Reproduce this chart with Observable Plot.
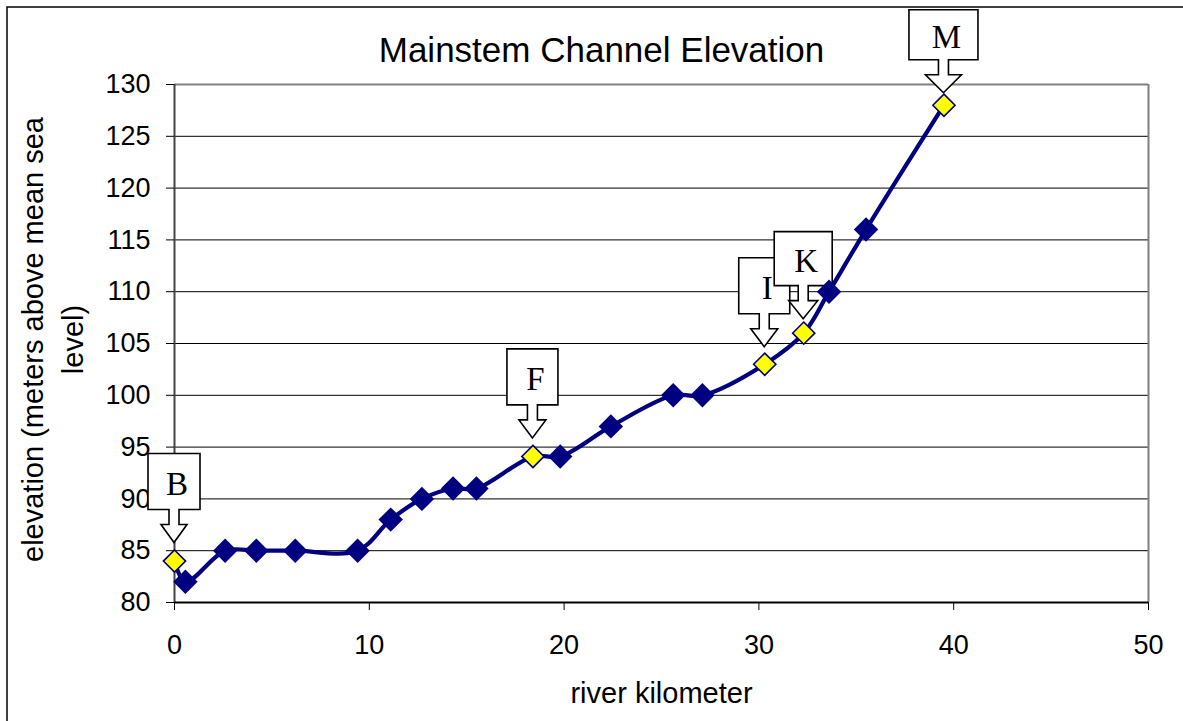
<!DOCTYPE html>
<html>
<head>
<meta charset="utf-8">
<script src="https://cdn.jsdelivr.net/npm/d3@7"></script>
<script src="https://cdn.jsdelivr.net/npm/@observablehq/plot@0.6"></script>
<style>
  html, body { margin: 0; padding: 0; background: #fff; overflow: hidden; }
  #chart { width: 1183px; height: 721px; }
</style>
</head>
<body>
<div id="chart"></div>
<script>
// ---- data ----
const km        = [0, 0.56, 2.6, 4.2, 6.2, 9.4, 11.1, 12.7, 14.3, 15.5, 18.4, 19.8, 22.4, 25.6, 27.1, 30.3, 32.3, 33.6, 35.5, 39.5];
const elevation = [84, 82, 85, 85, 85, 85, 88, 90, 91, 91, 94.1, 94.1, 97, 100, 100, 103, 106, 110, 116, 128];
const siteLabel = ["B", "", "", "", "", "", "", "", "", "", "F", "", "", "", "", "I", "K", "", "", "M"];
const xTicks = [0, 10, 20, 30, 40, 50];
const yTicks = [80, 85, 90, 95, 100, 105, 110, 115, 120, 125, 130];
const titleText = "Mainstem Channel Elevation";
const xLabel = "river kilometer";
const yLabel = "elevation (meters above mean sea\nlevel)";

// ---- table built from arrays ----
const points = km.map((k, i) => ({km: k, elev: elevation[i], label: siteLabel[i]}));
const plain = points.filter(d => !d.label);
const marked = points.filter(d => d.label);

// callout styling (pixel sizes per label)
const calloutStyle = {
  B: {w: 52, h: 56, head: 26, gap: 18},
  F: {w: 51, h: 56, head: 27, gap: 18},
  I: {w: 51, h: 56, head: 27, gap: 17},
  K: {w: 58, h: 54, head: 29, gap: 14},
  M: {w: 69, h: 50, head: 36, gap: 12}
};

const navy = "#000080";

function callouts(index, scales, values, dimensions) {
  const sx = typeof scales.x === "function" ? scales.x : scales.scales.x.apply;
  const sy = typeof scales.y === "function" ? scales.y : scales.scales.y.apply;
  const g = d3.create("svg:g");
  for (const d of marked) {
    const s = calloutStyle[d.label];
    const tx = sx(d.km), ty = sy(d.elev) - s.gap;
    const hh = 18, sl = 15, sw = 5, hw = s.head / 2, bw = s.w / 2, bh = s.h;
    const p = [
      [0, 0], [-hw, -hh], [-sw, -hh], [-sw, -(hh + sl)], [-bw, -(hh + sl)],
      [-bw, -(hh + sl + bh)], [bw, -(hh + sl + bh)], [bw, -(hh + sl)],
      [sw, -(hh + sl)], [sw, -hh], [hw, -hh]
    ];
    g.append("path")
      .attr("d", "M" + p.map(q => (tx + q[0]) + "," + (ty + q[1])).join("L") + "Z")
      .attr("fill", "#fff").attr("stroke", "#000").attr("stroke-width", 1.6);
    g.append("text")
      .attr("x", tx + 3).attr("y", ty - (hh + sl + bh / 2) + 2)
      .attr("text-anchor", "middle").attr("dominant-baseline", "central")
      .attr("font-family", "'Liberation Serif', 'DejaVu Serif', serif")
      .attr("font-size", 33).attr("fill", "#000")
      .text(d.label);
  }
  return g.node();
}

function outerBorder() {
  return d3.create("svg:rect")
    .attr("x", 7).attr("y", 7).attr("width", 1200).attr("height", 800)
    .attr("fill", "none").attr("stroke", "#000").attr("stroke-width", 1.5).node();
}

const chart = Plot.plot({
  width: 1183,
  height: 721,
  marginLeft: 174,
  marginRight: 35,
  marginTop: 84,
  marginBottom: 119,
  style: {fontFamily: "'Liberation Sans', Arial, sans-serif", color: "#000", background: "#fff"},
  x: {domain: [0, 50]},
  y: {domain: [80, 130]},
  marks: [
    outerBorder,
    Plot.ruleY(yTicks.filter(t => t > 80 && t < 130), {stroke: "#000", strokeWidth: 1}),
    Plot.ruleY([130], {stroke: "#808080", strokeWidth: 2}),
    Plot.ruleX([50], {stroke: "#808080", strokeWidth: 2}),
    Plot.ruleX([0], {stroke: "#444", strokeWidth: 2}),
    Plot.ruleY([80], {stroke: "#000", strokeWidth: 2}),
    Plot.axisX({ticks: xTicks, tickSize: 8, tickPadding: 24, fontSize: 27, label: null, stroke: "#000"}),
    Plot.axisY({ticks: yTicks, tickSize: 8, tickPadding: 16, fontSize: 27, label: null, stroke: "#000"}),
    Plot.text([titleText], {frameAnchor: "top", dx: -60, dy: -34, fontSize: 35, lineAnchor: "middle", fill: "#000"}),
    Plot.text([xLabel], {frameAnchor: "bottom", dy: 91, fontSize: 29, lineAnchor: "middle", fill: "#000"}),
    Plot.text([yLabel], {frameAnchor: "left", dx: -124, dy: -4, rotate: -90, textAnchor: "middle", fontSize: 29, lineHeight: 1.35, lineAnchor: "middle", fill: "#000"}),
    callouts,
    Plot.line(points, {x: "km", y: "elev", curve: "catmull-rom", stroke: navy, strokeWidth: 4.2}),
    Plot.dot(plain, {x: "km", y: "elev", symbol: "diamond2", r: 11, fill: navy, stroke: "none"}),
    Plot.dot(marked, {x: "km", y: "elev", symbol: "diamond2", r: 10, fill: "#ffff00", stroke: navy, strokeWidth: 1.6})
  ]
});
document.getElementById("chart").appendChild(chart);
</script>
</body>
</html>
